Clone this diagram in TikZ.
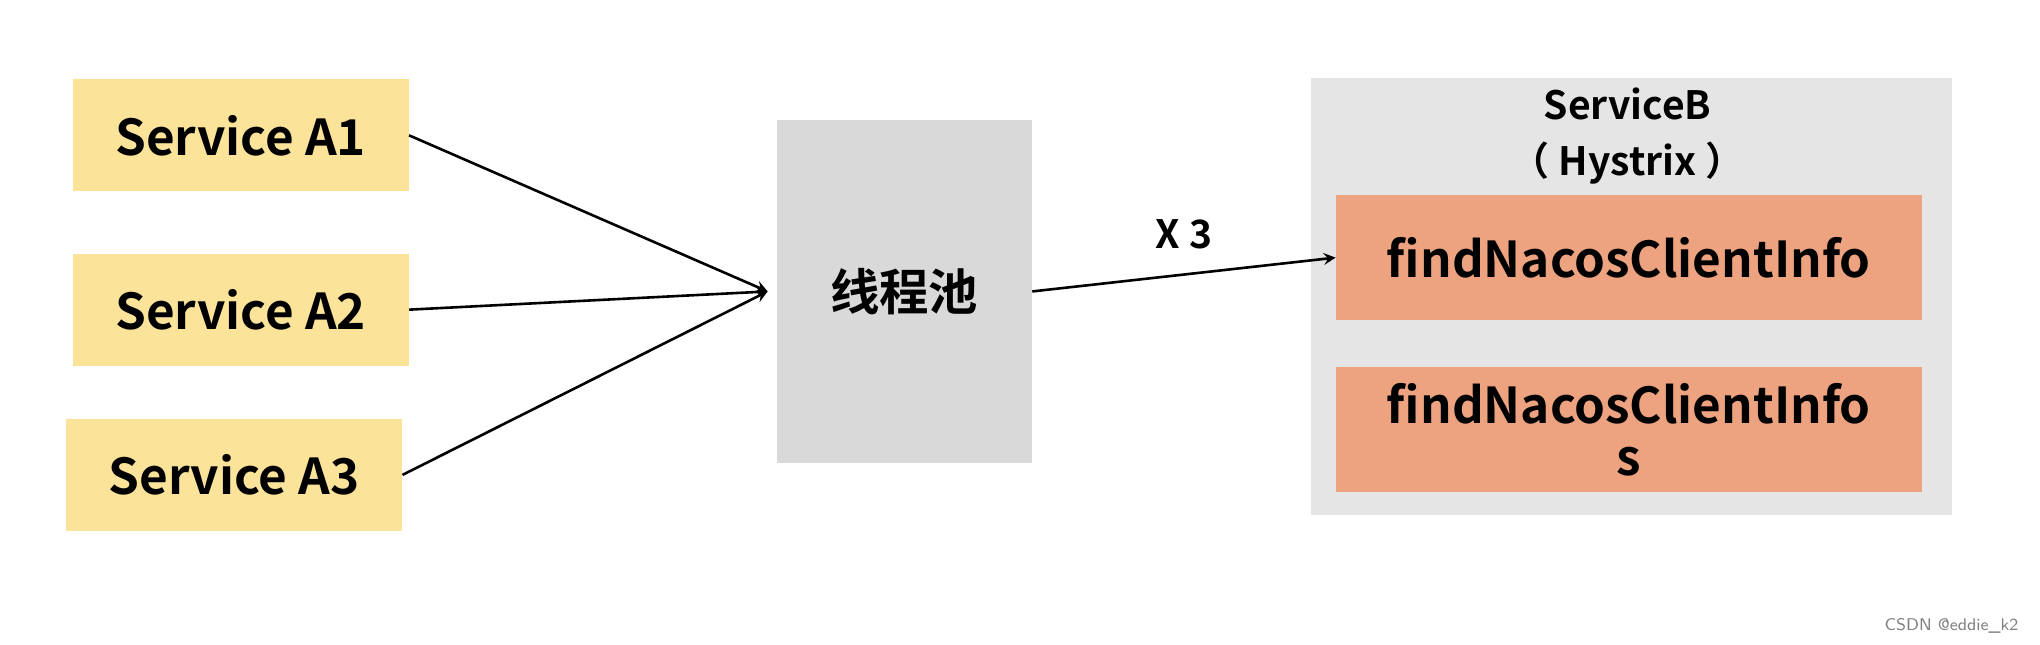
\documentclass[tikz,border=0pt]{standalone}
\usepackage{fontspec}
\setmainfont{Noto Sans CJK SC Bold}
\begin{document}
\begin{tikzpicture}[x=0.5pt,y=-0.5pt,
  abox/.style={fill=yellow!45!orange!55!white, fill=yabox, inner sep=0, minimum width=129pt, minimum height=43pt, font=\fontsize{19}{22}\selectfont},
  obox/.style={fill=obox, inner sep=0, minimum width=225pt, minimum height=48pt, font=\fontsize{19}{22}\selectfont, align=center},
  arr/.style={line width=1pt, -stealth}]
\definecolor{yabox}{HTML}{FBE49A}
\definecolor{obox}{HTML}{EDA380}
\useasboundingbox (0,0) rectangle (1568,495);
\fill[white] (0,0) rectangle (1568,495);
\node[abox] (a1) at (185,104) {Service A1};
\node[abox] (a2) at (185,238) {Service A2};
\node[abox] (a3) at (180,365) {Service A3};
\node[fill=black!15, minimum width=98pt, minimum height=132pt, inner sep=0, font=\fontsize{19}{22}\selectfont] (pool) at (695,224) {线程池};
\node[fill=black!10, minimum width=246pt, minimum height=168pt, inner sep=0] (b) at (1254,228) {};
\node[font=\fontsize{15}{18}\selectfont] (bt) at (1251,80) {ServiceB};
\node[font=\fontsize{15}{18}\selectfont] (bh) at (1251,125) {（ Hystrix ）};
\node[obox] (f1) at (1252,198) {findNacosClientInfo};
\node[obox] (f2) at (1252,330) {findNacosClientInfo\\[-2pt]s};
\coordinate (in) at (590,224);
\draw[arr] (a1.east) -- (in);
\draw[arr] (a2.east) -- (in);
\draw[arr] (a3.east) -- (in);
\draw[arr] (pool.east) -- (f1.west) node[midway, above=6pt, font=\fontsize{15}{18}\selectfont] {X 3};
\node[text=black!50, font=\fontsize{6.5}{8}\selectfont\sffamily] (wm) at (1500,481) {CSDN @eddie\_k2};
\end{tikzpicture}
\end{document}
